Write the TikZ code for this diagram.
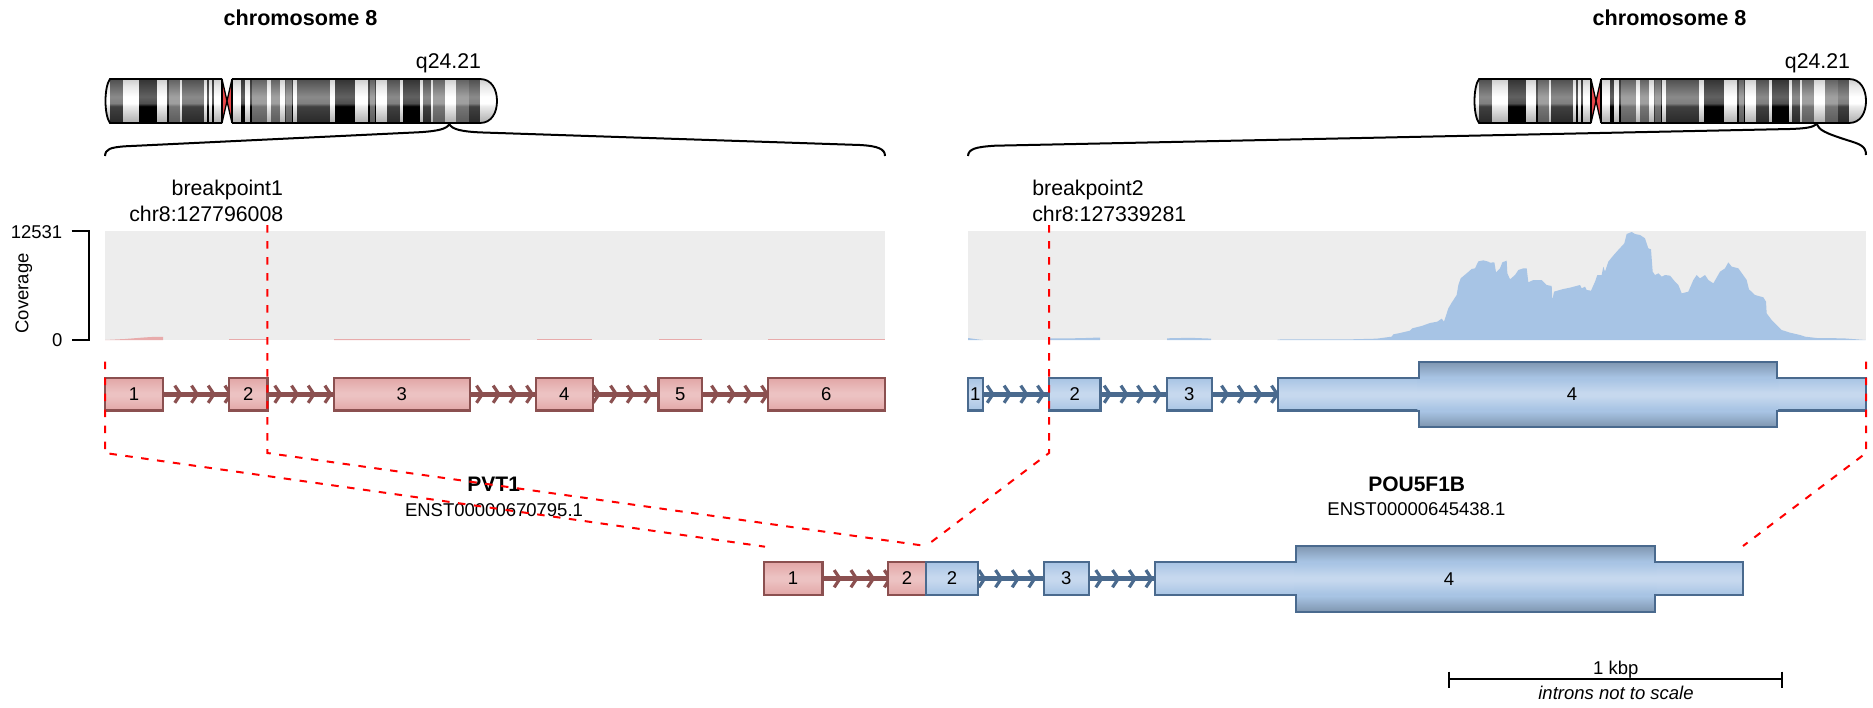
\documentclass[tikz,border=0pt]{standalone}
\usepackage{fontspec}
\setmainfont{Liberation Sans}
\pgfdeclarelayer{back}
\pgfsetlayers{back,main}
\definecolor{redln}{HTML}{8B5050}
\definecolor{bluln}{HTML}{4A6A8E}
\definecolor{covr}{HTML}{E8ABAB}
\definecolor{covb}{HTML}{A7C4E5}
\definecolor{covbg}{HTML}{EDEDED}
\definecolor{rEdge}{HTML}{E2A6A6}
\definecolor{rMid}{HTML}{ECC2C2}
\definecolor{bEdge}{HTML}{A8C4E4}
\definecolor{bMid}{HTML}{C6D8EE}
\definecolor{tEdge}{HTML}{7F96B0}
\definecolor{centro}{HTML}{E8474A}
\pgfdeclareverticalshading{exr}{100bp}{color(0bp)=(rEdge);color(25bp)=(rEdge);color(47bp)=(rMid);color(53bp)=(rMid);color(75bp)=(rEdge);color(100bp)=(rEdge)}
\pgfdeclareverticalshading{exb}{100bp}{color(0bp)=(bEdge);color(25bp)=(bEdge);color(47bp)=(bMid);color(53bp)=(bMid);color(75bp)=(bEdge);color(100bp)=(bEdge)}
\pgfdeclareverticalshading{exthick}{100bp}{color(0bp)=(tEdge);color(25bp)=(tEdge);color(37bp)=(bEdge);color(63bp)=(bEdge);color(75bp)=(tEdge);color(100bp)=(tEdge)}
\pgfdeclareverticalshading{bandW}{100bp}{gray(0bp)=(0.68);gray(25bp)=(0.68);gray(44bp)=(0.92);gray(47.5bp)=(1);gray(55bp)=(1);gray(67.5bp)=(0.9);gray(75bp)=(0.8);gray(100bp)=(0.8)}
\pgfdeclareverticalshading{bandG}{100bp}{gray(0bp)=(0.36);gray(25bp)=(0.36);gray(44bp)=(0.46);gray(47.5bp)=(0.62);gray(55bp)=(0.63);gray(75bp)=(0.38);gray(100bp)=(0.38)}
\pgfdeclareverticalshading{bandD}{100bp}{gray(0bp)=(0.16);gray(25bp)=(0.16);gray(44bp)=(0.25);gray(47.5bp)=(0.5);gray(55bp)=(0.54);gray(75bp)=(0.31);gray(100bp)=(0.31)}
\pgfdeclareverticalshading{bandK}{100bp}{gray(0bp)=(0);gray(25bp)=(0);gray(44bp)=(0);gray(47.5bp)=(0.31);gray(55bp)=(0.38);gray(75bp)=(0.2);gray(100bp)=(0.2)}
\newcommand\fa{\fontsize{21.3}{25}\selectfont}
\newcommand\fb{\fontsize{18.5}{22}\selectfont}
\newcommand\fc{\fontsize{21.6}{26}\selectfont\bfseries}
\newcommand\myexon[8]{% name x1 x2 y1 y2 style shading text
  \node[exonbox,#6,shade,shading=#7,minimum width={(#3-#2)*1pt},minimum height={(#5-#4)*1pt}] (#1) at ({(#2+#3)/2},{(#4+#5)/2}) {#8};}
\newcommand\mychevs[3]{% style y tips
  \foreach \t in {#3} {\draw[#1] (\t-8.5,#2-8.6) -- (\t-2.8,#2) -- (\t-8.5,#2+8.6);}}
\newcommand\myideo[1]{%
\begin{scope}[xshift=#1]
  \begin{scope}
    \clip (110,79) -- (222,79) -- (222,123) -- (110,123) .. controls (104,115) and (104,87) .. (110,79);
    \foreach \a/\b/\s in {104/110/bandW,110/123.3/bandD,123.3/139/bandW,139/157.7/bandK,157.7/167.7/bandW,167.7/169/bandK,169/180/bandG,180/182.3/bandW,182.3/204.3/bandD,204.3/207.3/bandW,207.3/209.3/bandK,209.3/212/bandW,212/214/bandK,214/222/bandW}
      {\shade[shading=\s] (\a,79) rectangle (\b,123);}
  \end{scope}
  \begin{scope}
    \clip (232,79) -- (480,79) .. controls (492,79) and (497,90) .. (497,101) .. controls (497,112) and (492,123) .. (480,123) -- (232,123) -- cycle;
    \foreach \a/\b/\s in {232/241.7/bandW,241.7/245.7/bandK,245.7/250.7/bandW,250.7/252.3/bandK,252.3/267.7/bandG,267.7/271/bandW,271/280.7/bandG,280.7/285/bandW,285/286.7/bandD,286.7/292.3/bandG,292.3/293.3/bandK,293.3/297.7/bandW,297.7/307.3/bandD,307.3/330.7/bandD,330.7/335.7/bandW,335.7/355/bandK,355/368.3/bandW,368.3/370/bandK,370/375/bandG,375/376.7/bandK,376.7/387.3/bandW,387.3/400/bandD,400/403.3/bandW,403.3/420.7/bandK,420.7/423.3/bandW,423.3/431.7/bandD,431.7/433.3/bandW,433.3/445/bandG,445/456.7/bandW,456.7/469.3/bandG,469.3/480/bandD,480/498/bandW}
      {\shade[shading=\s] (\a,79) rectangle (\b,123);}
  \end{scope}
  \fill[centro] (222,79) -- (227,101) -- (222,123) -- cycle;
  \fill[centro] (232,79) -- (227,101) -- (232,123) -- cycle;
  \draw[ideoline] (222,79) -- (110,79) .. controls (104,87) and (104,115) .. (110,123) -- (222,123);
  \draw[ideoline] (232,79) -- (480,79) .. controls (492,79) and (497,90) .. (497,101) .. controls (497,112) and (492,123) .. (480,123) -- (232,123);
  \draw[ideoline,line width=1.3pt] (222,79) -- (222,123) (232,79) -- (232,123);
  \draw[ideoline,line width=1.3pt] (222,79) -- (232,123) (232,79) -- (222,123);
\end{scope}}
\tikzset{
  exonbox/.style={draw,inner sep=0pt,outer sep=0pt,line width=2.4pt,font=\fb},
  redex/.style={draw=redln},
  bluex/.style={draw=bluln},
  introlr/.style={draw=redln,line width=4.6pt},
  introlb/.style={draw=bluln,line width=4.6pt},
  chevr/.style={draw=redln,line width=3.2pt},
  chevb/.style={draw=bluln,line width=3.2pt},
  ideoline/.style={draw=black,line width=1.8pt},
  blk/.style={draw=black,line width=2pt},
  bpline/.style={draw=red,line width=2pt,dash pattern=on 7.5pt off 8.5pt},
  txt/.style={inner sep=0pt,outer sep=0pt,anchor=base,font=\fa},
  smalltxt/.style={inner sep=0pt,outer sep=0pt,anchor=base,font=\fb},
  boldtxt/.style={inner sep=0pt,outer sep=0pt,anchor=base,font=\fc},
}
\begin{document}
\begin{tikzpicture}[x=1pt,y=-1pt]
\useasboundingbox (0,0) rectangle (1873,707);
% ideograms
\myideo{0pt}
\myideo{1369pt}
\node[boldtxt] (chrL) at (300.5,25.3) {chromosome 8};
\node[boldtxt] (chrR) at (1669.5,25.3) {chromosome 8};
\node[txt] (bandL) at (448.5,68.3) {q24.21};
\node[txt] (bandR) at (1817.5,68.3) {q24.21};
% braces
\coordinate (tipL) at (449.3,124);
\coordinate (tipR) at (1816.7,124);
\draw[blk] (105,156) .. controls (105.5,149) and (110,147.5) .. (125,146.3) -- (420,132.2) .. controls (438,131) and (447,129) .. (tipL) .. controls (452,129.5) and (462,131.5) .. (480,132.4) -- (860,145) .. controls (878,146) and (885,149) .. (885,156);
\draw[blk] (968,156) .. controls (968.5,149) and (975,147) .. (995,145.7) -- (1790,129) .. controls (1805,128.5) and (1813,127.5) .. (tipR) .. controls (1819,130) and (1825,133) .. (1846.7,140) .. controls (1860,144) and (1866,146) .. (1866,155);
% coverage panels
\fill[covbg] (105,231) rectangle (885,340);
\fill[covbg] (968,231) rectangle (1866,340);
\fill[covr] (105,340) -- (125,339) -- (145,337.4) -- (155,336.8) -- (163,336.8) -- (163,340) -- cycle;
\fill[covr] (229,340) -- (229,339.2) -- (267,339.2) -- (267,340) -- cycle;
\fill[covr] (334,340) -- (334,339) -- (470,339.2) -- (470,340) -- cycle;
\fill[covr] (537,340) -- (537,339.2) -- (592,339.2) -- (592,340) -- cycle;
\fill[covr] (659,340) -- (659,339) -- (702,339) -- (702,340) -- cycle;
\fill[covr] (768,340) -- (768,339.2) -- (885,339.2) -- (885,340) -- cycle;
\fill[covb] (968,340) -- (968,338) -- (975,339) -- (983,340) -- cycle;
\fill[covb] (1049,340) -- (1049,338.5) -- (1080,338.2) -- (1100,337.5) -- (1100,340) -- cycle;
\fill[covb] (1167,340) -- (1167,338.3) -- (1190,337.8) -- (1211,338.6) -- (1211,340) -- cycle;
\fill[covb,shift={(1350,220)},x=.33333pt,y=-.33333pt] (-218,360) -- (-215,358.5) -- (0,358) -- (80,356) -- (125,350) -- (130,343) -- (150,339) -- (180,332) -- (187,325) -- (215,318) -- (240,309) -- (262,305) -- (275,296) -- (282,305) -- (295,265) -- (305,248) -- (320,225) -- (325,195) -- (332,175) -- (350,160) -- (365,147) -- (375,145) -- (385,124) -- (400,121) -- (415,125) -- (420,128) -- (433,127) -- (438,157) -- (450,145) -- (457,127) -- (470,122) -- (472,160) -- (480,178) -- (495,165) -- (505,150) -- (520,145) -- (530,145) -- (535,187) -- (550,180) -- (575,180) -- (590,195) -- (605,198) -- (607,240) -- (612,215) -- (640,207) -- (660,203) -- (690,195) -- (695,205) -- (705,200) -- (710,210) -- (723,212) -- (735,185) -- (742,165) -- (755,165) -- (760,140) -- (765,155) -- (775,125) -- (787,110) -- (800,95) -- (823,70) -- (830,42) -- (845,36) -- (855,42) -- (870,45) -- (885,55) -- (895,85) -- (903,88) -- (908,155) -- (915,165) -- (925,160) -- (935,170) -- (945,165) -- (960,167) -- (975,185) -- (985,195) -- (995,220) -- (1015,215) -- (1030,180) -- (1040,165) -- (1050,175) -- (1065,165) -- (1075,180) -- (1090,190) -- (1110,155) -- (1125,145) -- (1135,127) -- (1145,140) -- (1165,145) -- (1190,180) -- (1197,208) -- (1215,225) -- (1240,232) -- (1248,245) -- (1250,280) -- (1265,300) -- (1280,315) -- (1295,330) -- (1320,338) -- (1350,345) -- (1365,350) -- (1400,354) -- (1480,355) -- (1547,360) -- cycle;
% axis
\coordinate (axT) at (71.5,231);
\coordinate (axB) at (71.5,340);
\draw[blk] (axT) -- (89.2,231) -- (89.2,340) -- (axB);
\node[smalltxt,anchor=base east] (y1) at (62.3,238.3) {12531};
\node[smalltxt,anchor=base east] (y0) at (62.3,346.7) {0};
\node[smalltxt,rotate=90,anchor=base] (ylab) at (28.3,293.3) {Coverage};
% breakpoint labels
\node[txt,anchor=base east] (bp1a) at (283,195) {breakpoint1};
\node[txt,anchor=base east] (bp1b) at (283.3,221) {chr8:127796008};
\node[txt,anchor=base west] (bp2a) at (1032.3,195) {breakpoint2};
\node[txt,anchor=base west] (bp2b) at (1032.3,221) {chr8:127339281};
% gene names
\node[boldtxt,font=\fontsize{21}{25}\selectfont\bfseries] (g1) at (493.7,491.7) {PVT1};
\node[smalltxt] (g1t) at (494,516) {ENST00000670795.1};
\node[boldtxt,font=\fontsize{21}{25}\selectfont\bfseries] (g2) at (1416.7,491.7) {POU5F1B};
\node[smalltxt] (g2t) at (1416.4,515.7) {ENST00000645438.1};
% top left exons
\myexon{l1}{105}{163}{378}{410.5}{redex}{exr}{1}
\myexon{l2}{229}{267.5}{378}{410.5}{redex}{exr}{2}
\myexon{l3}{333.7}{470}{378}{410.5}{redex}{exr}{3}
\myexon{l4}{536}{592.7}{378}{410.5}{redex}{exr}{4}
\myexon{l5}{658.3}{702}{378}{410.5}{redex}{exr}{5}
\myexon{l6}{767.7}{885}{378}{410.5}{redex}{exr}{6}
% top right exons
\myexon{r1}{967.7}{982.7}{378}{410.5}{bluex}{exb}{1}
\myexon{r2}{1049}{1100.3}{378}{410.5}{bluex}{exb}{2}
\myexon{r3}{1166.7}{1211.7}{378}{410.5}{bluex}{exb}{3}
\myexon{r4}{1277.7}{1866}{378}{410.5}{bluex}{exb}{}
\myexon{r4cds}{1418.7}{1776.7}{361.7}{426.7}{bluex}{exthick}{}
\shade[shading=exb] (1417.4,379.2) rectangle (1778,409.3);
\node[smalltxt,anchor=center] (r4t) at (1571.9,394.2) {4};
% fusion exons
\myexon{f1}{763.7}{822.3}{562}{595}{redex}{exr}{1}
\myexon{f2}{888}{926}{562}{595}{redex}{exr}{2}
\myexon{f3}{926}{978}{562}{595}{bluex}{exb}{2}
\myexon{f4}{1043.7}{1089}{562}{595}{bluex}{exb}{3}
\myexon{f5}{1154.7}{1743}{562}{595}{bluex}{exb}{}
\myexon{f5cds}{1295.7}{1654.7}{545.7}{611.7}{bluex}{exthick}{}
\shade[shading=exb] (1294.4,563.2) rectangle (1656,593.8);
\node[smalltxt,anchor=center] (f5t) at (1449,578.7) {4};
% introns
\begin{pgfonlayer}{back}
\draw[introlr] (l1) -- (l2);
\draw[introlr] (l2) -- (l3);
\draw[introlr] (l3) -- (l4);
\draw[introlr] (l4) -- (l5);
\draw[introlr] (l5) -- (l6);
\draw[introlb] (r1) -- (r2);
\draw[introlb] (r2) -- (r3);
\draw[introlb] (r3) -- (r4);
\draw[introlr] (f1) -- (f2);
\draw[introlb] (f3) -- (f4);
\draw[introlb] (f4) -- (f5);
\mychevs{chevr}{394.2}{166.6,183.3,200,216.7,233.4,283.3,300,316.7,333.4,468,485,501.7,518.4,535,601.7,619,635.7,653.3,720,736.7,753.3,770}
\mychevs{chevb}{394.2}{995.7,1012.6,1029.3,1046,1112.7,1129.4,1146,1162.7,1230,1246.7,1263.4,1280}
\mychevs{chevr}{578.7}{826,842.7,859.4,876.1,892.8}
\mychevs{chevb}{578.7}{987.3,1004,1020.7,1037.3,1104.3,1121,1137.7,1154.4}
\end{pgfonlayer}
% breakpoint guides
\coordinate (a1) at (105,361.5);
\coordinate (a2) at (105,453);
\coordinate (a3) at (765,546.7);
\coordinate (b1) at (267.3,225);
\coordinate (b2) at (267.3,453);
\coordinate (bm) at (926,546);
\coordinate (c1) at (1049,225);
\coordinate (c2) at (1049,453);
\coordinate (d1) at (1866,361.5);
\coordinate (d2) at (1866,453);
\coordinate (d3) at (1743,546);
\draw[bpline] (a1) -- (a2) -- (a3);
\draw[bpline] (b1) -- (b2) -- (bm);
\draw[bpline] (c1) -- (c2) -- (bm);
\draw[bpline] (d1) -- (d2) -- (d3);
% scale bar
\coordinate (s1) at (1449,679.3);
\coordinate (s2) at (1782,679.3);
\draw[blk] (s1) -- (s2);
\draw[blk] (1449,671.7) -- (1449,687.7);
\draw[blk] (1782,671.7) -- (1782,687.7);
\node[smalltxt] (sc1) at (1615.7,674) {1 kbp};
\node[smalltxt,font=\fb\itshape] (sc2) at (1616,699.3) {introns not to scale};
\end{tikzpicture}
\end{document}
